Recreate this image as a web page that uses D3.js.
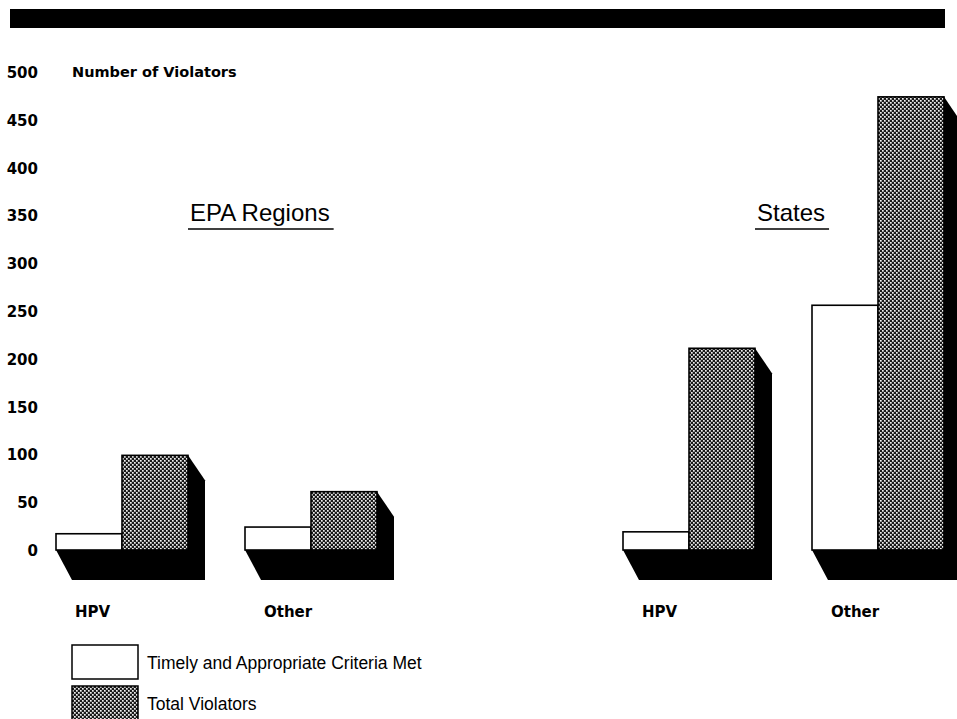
<!DOCTYPE html>
<html>
<head>
<meta charset="utf-8">
<script src="https://cdn.jsdelivr.net/npm/d3@7"></script>
<style>
  html, body { margin: 0; padding: 0; background: #fff; }
  svg { display: block; }
</style>
</head>
<body>
<svg id="chart" width="957" height="719"></svg>
<script>
// ---- data ----
const regions = ["EPA Regions", "States"];
const categories = ["HPV", "Other"];
const seriesNames = ["Timely and Appropriate Criteria Met", "Total Violators"];
const epaTimely = [17, 24];
const epaTotal = [99, 61];
const statesTimely = [19, 256];
const statesTotal = [211, 474];
const yTicks = [0, 50, 100, 150, 200, 250, 300, 350, 400, 450, 500];
const yTitle = "Number of Violators";

// ---- build table ----
const valuesByRegion = {
  "EPA Regions": { timely: epaTimely, total: epaTotal },
  "States": { timely: statesTimely, total: statesTotal }
};
const rows = [];
regions.forEach(r => categories.forEach((c, i) => {
  rows.push({ region: r, cat: c, key: r + "|" + c,
              timely: valuesByRegion[r].timely[i], total: valuesByRegion[r].total[i] });
}));
const slots = [regions[0] + "|" + categories[0], regions[0] + "|" + categories[1], "gap",
               regions[1] + "|" + categories[0], regions[1] + "|" + categories[1]];

const svg = d3.select("#chart");

// pattern for dark bars
const defs = svg.append("defs");
const pat = defs.append("pattern").attr("id", "stipple")
  .attr("width", 4).attr("height", 4).attr("patternUnits", "userSpaceOnUse");
pat.append("rect").attr("width", 4).attr("height", 4).attr("fill", "#1a1a1a");
pat.append("rect").attr("x", 0).attr("y", 0).attr("width", 1.7).attr("height", 1.7).attr("fill", "#f0f0f0");
pat.append("rect").attr("x", 2).attr("y", 2).attr("width", 1.7).attr("height", 1.7).attr("fill", "#f0f0f0");

// top black band
svg.append("rect").attr("x", 10).attr("y", 9).attr("width", 935).attr("height", 19).attr("fill", "#000");

// scales
const y = d3.scaleLinear().domain([0, 500]).range([550, 72]);
const x = d3.scaleBand().domain(slots).range([56, 944]).paddingInner(0.3016).paddingOuter(0);
const xs = d3.scaleBand().domain(["timely", "total"]).range([0, x.bandwidth()]).padding(0);

// y tick labels
const yAxis = d3.axisLeft(y).tickValues(yTicks).tickSize(0).tickPadding(0);
const gy = svg.append("g").attr("transform", "translate(38,0)").call(yAxis);
gy.select(".domain").remove();
gy.selectAll("text")
  .attr("font-family", "DejaVu Sans").attr("font-weight", "bold").attr("font-size", 15)
  .attr("fill", "#000").attr("dy", "0.36em");

svg.append("text").attr("x", 72).attr("y", y(500)).attr("dy", "0.36em")
  .attr("font-family", "DejaVu Sans").attr("font-weight", "bold").attr("font-size", 14.5)
  .text(yTitle);

// 3D depth constants
const dx = 17, dyS = 25, dxF = 16, dyF = 30;
const base = y(0);

const groups = svg.append("g").selectAll("g").data(rows).join("g")
  .attr("transform", d => `translate(${x(d.key)},0)`);

// floor shadow
groups.append("path").attr("fill", "#000")
  .attr("d", d => {
    const x1 = xs("total") + xs.bandwidth();
    return `M0,${base} L${dxF},${base + dyF} L${x1 + dx},${base + dyF} L${x1 + dx},${base} L${x1},${base} Z`;
  });
// side of dark bar
groups.append("path").attr("fill", "#000")
  .attr("d", d => {
    const x1 = xs("total") + xs.bandwidth();
    const t = y(d.total);
    return `M${x1},${t} L${x1 + dx},${t + dyS} L${x1 + dx},${base + dyF} L${x1},${base} Z`;
  });
// white bars
groups.append("rect")
  .attr("x", xs("timely")).attr("width", xs.bandwidth())
  .attr("y", d => y(d.timely)).attr("height", d => base - y(d.timely))
  .attr("fill", "#fff").attr("stroke", "#000").attr("stroke-width", 1.6);
// dark bars
groups.append("rect")
  .attr("x", xs("total")).attr("width", xs.bandwidth())
  .attr("y", d => y(d.total)).attr("height", d => base - y(d.total))
  .attr("fill", "url(#stipple)").attr("stroke", "#000").attr("stroke-width", 1.6);

// category labels
groups.append("text").attr("x", 19).attr("y", 612).attr("dy", "0.36em")
  .attr("font-family", "DejaVu Sans").attr("font-weight", "bold").attr("font-size", 15)
  .text(d => d.cat);

// region titles with underline
regions.forEach(r => {
  const gx = x(r + "|" + categories[0]) + 134;
  const t = svg.append("text").attr("x", gx).attr("y", 221)
    .attr("font-family", "Liberation Sans, Arial, sans-serif").attr("font-size", 24)
    .text(r);
  const w = t.node().getComputedTextLength();
  svg.append("line").attr("x1", gx - 2).attr("x2", gx + w + 4)
    .attr("y1", 229).attr("y2", 229).attr("stroke", "#000").attr("stroke-width", 1.5);
});

// legend
const legend = svg.append("g").selectAll("g").data(seriesNames).join("g")
  .attr("transform", (d, i) => `translate(72,${645 + i * 41})`);
legend.append("rect").attr("width", 66).attr("height", 34)
  .attr("fill", (d, i) => i === 0 ? "#fff" : "url(#stipple)")
  .attr("stroke", "#000").attr("stroke-width", 1.5);
legend.append("text").attr("x", 75).attr("y", 18).attr("dy", "0.36em")
  .attr("font-family", "Liberation Sans, Arial, sans-serif").attr("font-size", 17.5)
  .text(d => d);
</script>
</body>
</html>
